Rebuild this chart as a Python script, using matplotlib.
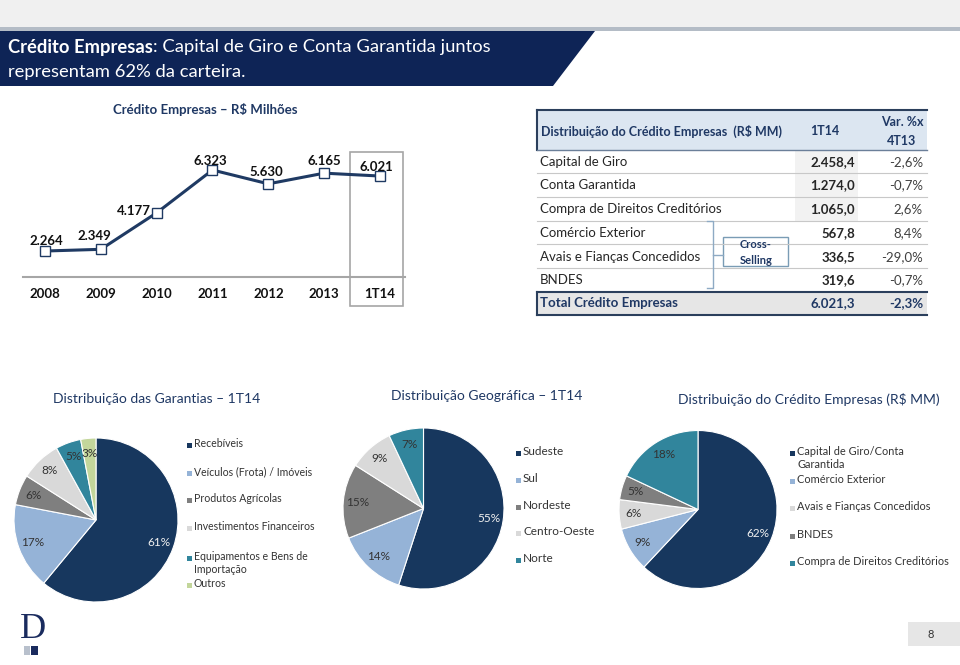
import matplotlib.pyplot as plt
import matplotlib.patches as mpatches
import numpy as np

plt.rcParams['font.family'] = ['Lato', 'DejaVu Sans']

W, H = 960, 665
NAVY = '#1f3864'
BANNER = '#0e2456'
TXT = '#262626'

# dados do gráfico de linha
anos = ['2008', '2009', '2010', '2011', '2012', '2013', '1T14']
credito = [2264, 2349, 4177, 6323, 5630, 6165, 6021]

# tabela
itens = ['Capital de Giro', 'Conta Garantida', 'Compra de Direitos Creditórios',
         'Comércio Exterior', 'Avais e Fianças Concedidos', 'BNDES']
valor_1t14 = [2458.4, 1274.0, 1065.0, 567.8, 336.5, 319.6]
var_4t13 = [-2.6, -0.7, 2.6, 8.4, -29.0, -0.7]
total_1t14 = 6021.3
total_var = -2.3

# pizzas
garantias = ['Recebíveis', 'Veículos (Frota) / Imóveis', 'Produtos Agrícolas',
             'Investimentos Financeiros', 'Equipamentos e Bens de\nImportação', 'Outros']
garantias_pct = [61, 17, 6, 8, 5, 3]
regioes = ['Sudeste', 'Sul', 'Nordeste', 'Centro-Oeste', 'Norte']
regioes_pct = [55, 14, 15, 9, 7]
modalidades = ['Capital de Giro/Conta\nGarantida', 'Comércio Exterior',
               'Avais e Fianças Concedidos', 'BNDES', 'Compra de Direitos Creditórios']
modalidades_pct = [62, 9, 6, 5, 18]

C_DARK = '#17375e'
C_LBLUE = '#95b3d7'
C_GRAY = '#7f7f7f'
C_LGRAY = '#d9d9d9'
C_TEAL = '#31859c'
C_GREEN = '#c3d69b'


def br(v, d=1):
    s = f"{v:,.{d}f}"
    return s.replace(',', '#').replace('.', ',').replace('#', '.')


def px_axes(x, y, w, h):
    return fig.add_axes([x / W, 1 - (y + h) / H, w / W, h / H])


fig = plt.figure(figsize=(W / 100, H / 100), dpi=100)
bg = fig.add_axes([0, 0, 1, 1])
bg.set_xlim(0, W)
bg.set_ylim(H, 0)
bg.axis('off')

# faixa superior e título
bg.add_patch(mpatches.Rectangle((0, 0), W, 27, fc='#f0f0f0', ec='none'))
bg.add_patch(mpatches.Rectangle((0, 27), W, 4, fc='#b4bcc6', ec='none'))
bg.add_patch(mpatches.Polygon([(0, 31), (595, 31), (553, 86), (0, 86)], closed=True,
                              fc=BANNER, ec='none'))
t1 = bg.text(8, 47, 'Crédito Empresas', color='white', fontsize=13.2,
             fontweight='bold', va='center')
bg.annotate(': Capital de Giro e Conta Garantida juntos', xy=(1, 0.5), xycoords=t1,
            va='center', ha='left', color='white', fontsize=13.2)
bg.text(8, 72, 'representam 62% da carteira.', color='white', fontsize=13.2, va='center')

# gráfico de linha
bg.text(205, 110, 'Crédito Empresas – R$ Milhões', color=NAVY, fontsize=9.5,
        fontweight='bold', ha='center', va='center')
ax = px_axes(23, 140, 382, 137)
ax.set_facecolor('none')
x = np.arange(len(anos))
ax.plot(x, credito, color='#1f3a63', lw=2.2, marker='s', ms=6.5, mfc='white',
        mec='#1f3a63', mew=1.0, zorder=3)
offs = [(1, 10), (-6, 13), (-23, 2), (-2, 9), (-2, 12), (0, 12), (-4, 9)]
for xi, v, o in zip(x, credito, offs):
    ax.annotate(br(v, 0), (xi, v), xytext=o, textcoords='offset pixels',
                ha='center', va='center', fontsize=9.5, fontweight='bold', color='#111111')
ax.set_xlim(-0.394, 6.448)
ax.set_ylim(962, 7827)
for s in ['top', 'left', 'right']:
    ax.spines[s].set_visible(False)
ax.spines['bottom'].set_color('#a6a6a6')
ax.spines['bottom'].set_linewidth(1.5)
ax.set_yticks([])
ax.set_xticks(x)
ax.set_xticklabels(anos, fontsize=9.5, fontweight='bold', color='#111111')
ax.tick_params(axis='x', length=0, pad=8)
bg.add_patch(mpatches.Rectangle((350, 152), 53, 154, fc='none', ec='#a6a6a6', lw=1.2))

# tabela
L, R = 537, 927
bg.add_patch(mpatches.Rectangle((L, 110), R - L, 40, fc='#dce6f1', ec='none'))
bg.add_patch(mpatches.Rectangle((795, 150), 63, 71, fc='#f2f2f2', ec='none'))
bg.add_patch(mpatches.Rectangle((L, 292), R - L, 23, fc='#e6e6e6', ec='none'))
bg.plot([L, R], [110, 110], color='#2b3f5c', lw=1.5)
bg.plot([L, L], [110, 150], color='#2b3f5c', lw=1.5)
bg.plot([L, R], [150, 150], color='#6b7f99', lw=1.0)
for yy in [173, 197, 221, 244, 268]:
    bg.plot([L, R], [yy, yy], color='#c8c8c8', lw=0.8)
bg.plot([L, R], [292, 292], color='#2b3f5c', lw=1.5)
bg.plot([L, R], [315, 315], color='#2b3f5c', lw=1.5)
bg.plot([L, L], [292, 315], color='#2b3f5c', lw=1.5)

bg.text(541, 131, 'Distribuição do Crédito Empresas  (R$ MM)', color=NAVY,
        fontsize=9, fontweight='bold', va='center')
bg.text(825, 131, '1T14', color=NAVY, fontsize=9, fontweight='bold', ha='center', va='center')
bg.text(902, 122, 'Var. %x', color=NAVY, fontsize=9, fontweight='bold', ha='center', va='center')
bg.text(902, 141, '4T13', color=NAVY, fontsize=9, fontweight='bold', ha='center', va='center')
row_y = [162, 185, 209, 233, 257, 280]
for yy, nome, v, p in zip(row_y, itens, valor_1t14, var_4t13):
    bg.text(540, yy, nome, color=TXT, fontsize=9.5, va='center')
    bg.text(855, yy, br(v), color=TXT, fontsize=9.5, fontweight='bold', ha='right', va='center')
    bg.text(923, yy, br(p) + '%', color='#404040', fontsize=9.5, ha='right', va='center')
bg.text(540, 303, 'Total Crédito Empresas', color=NAVY, fontsize=9.5, fontweight='bold', va='center')
bg.text(855, 303, br(total_1t14), color=NAVY, fontsize=9.5, fontweight='bold', ha='right', va='center')
bg.text(923, 303, br(total_var) + '%', color=NAVY, fontsize=9.5, fontweight='bold',
        ha='right', va='center')

# cross-selling
bc = '#8eaac4'
bg.plot([707, 713, 713, 707], [221, 221, 288, 288], color=bc, lw=1.0)
bg.plot([713, 723], [255, 255], color=bc, lw=1.0)
bg.add_patch(mpatches.Rectangle((723, 237), 65, 29, fc='white', ec='#7a9cb5', lw=1.0))
bg.text(756, 245, 'Cross-', color=NAVY, fontsize=8, fontweight='bold', ha='center', va='center')
bg.text(756, 260, 'Selling', color=NAVY, fontsize=8, fontweight='bold', ha='center', va='center')

# pizzas
pies = [
    dict(title='Distribuição das Garantias – 1T14', tx=157, ty=399, c=(96, 520), r=82,
         labels=garantias, vals=garantias_pct,
         colors=[C_DARK, C_LBLUE, C_GRAY, C_LGRAY, C_TEAL, C_GREEN],
         mx=187, ly=[445, 473, 500, 528, 558, 585], fs=7.6),
    dict(title='Distribuição Geográfica – 1T14', tx=487, ty=396, c=(423.5, 508.5), r=80.5,
         labels=regioes, vals=regioes_pct,
         colors=[C_DARK, C_LBLUE, C_GRAY, C_LGRAY, C_TEAL],
         mx=516, ly=[453, 480, 507, 533, 560], fs=8.5),
    dict(title='Distribuição do Crédito Empresas (R$ MM)', tx=809, ty=399, c=(698, 509.5), r=79,
         labels=modalidades, vals=modalidades_pct,
         colors=[C_DARK, C_LBLUE, C_LGRAY, C_GRAY, C_TEAL],
         mx=790, ly=[453, 481, 508, 536, 563], fs=7.9),
]
for p in pies:
    bg.text(p['tx'], p['ty'], p['title'], color=NAVY, fontsize=10, ha='center', va='center')
    cx, cy = p['c']
    r = p['r'] * 1.05
    pa = px_axes(cx - r, cy - r, 2 * r, 2 * r)
    wedges, texts, autot = pa.pie(p['vals'], colors=p['colors'], startangle=90,
                                  counterclock=False, autopct='%.0f%%', pctdistance=0.82,
                                  wedgeprops=dict(edgecolor='white', linewidth=0.8),
                                  textprops=dict(fontsize=8.5, color='#333333'))
    autot[0].set_color('#f0f0f0')
    pa.set_xlim(-1.05, 1.05)
    pa.set_ylim(-1.05, 1.05)
    pa.set_aspect('equal')
    for lab, col, yy in zip(p['labels'], p['colors'], p['ly']):
        bg.add_patch(mpatches.Rectangle((p['mx'], yy - 2.5), 5, 5, fc=col, ec='none'))
        bg.text(p['mx'] + 7, yy - 7, lab, color='#333333', fontsize=p['fs'], va='top',
                linespacing=1.25)

# logo e número da página
bg.text(33, 630, 'D', family='Liberation Serif', color='#1a2b5e', fontsize=26,
        ha='center', va='center')
bg.add_patch(mpatches.Rectangle((24, 646), 6, 9, fc='#b8c0cc', ec='none'))
bg.add_patch(mpatches.Rectangle((31, 646), 7, 9, fc='#1a2b5e', ec='none'))
bg.add_patch(mpatches.Rectangle((908, 622), 52, 24, fc='#e6e6e6', ec='none'))
bg.text(931, 635, '8', color='#333333', fontsize=8, ha='center', va='center')

fig.savefig('out.png', dpi=100)
